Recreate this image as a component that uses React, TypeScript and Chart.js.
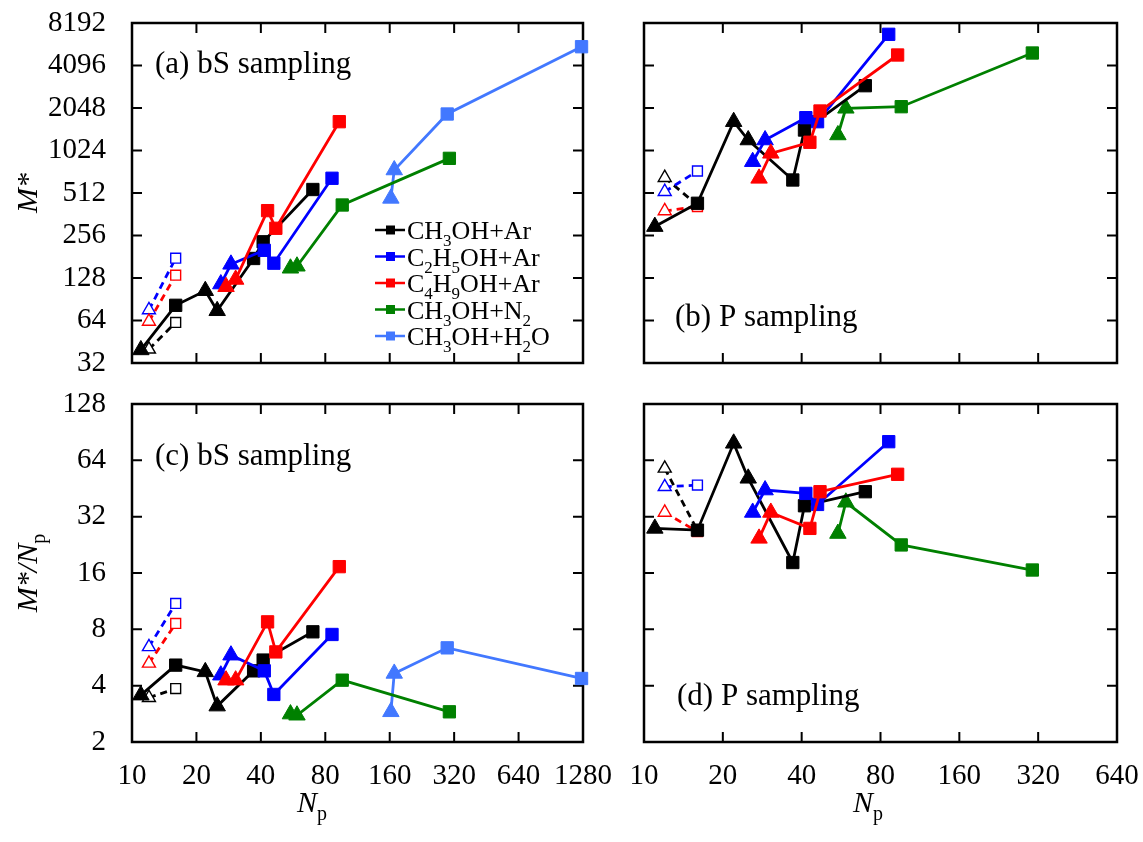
import React, { useEffect, useRef } from 'react';
import { Chart, registerables } from 'chart.js';

Chart.register(...registerables);

const PAGE_W = 1143;
const PAGE_H = 842;
const SERIF = '"Liberation Serif", "Times New Roman", Times, serif';

// ---------- tick values ----------
const xTicksBS = [10, 20, 40, 80, 160, 320, 640, 1280];
const xTicksP = [10, 20, 40, 80, 160, 320, 640];
const yTicksM = [32, 64, 128, 256, 512, 1024, 2048, 4096, 8192];
const yTicksRatio = [2, 4, 8, 16, 32, 64, 128];

// ---------- series names ----------
const seriesNames = ['CH3OH+Ar', 'C2H5OH+Ar', 'C4H9OH+Ar', 'CH3OH+N2', 'CH3OH+H2O'];

// marker kind per point (T = triangle, S = square)
const kindMeOHAr = ['T', 'S', 'T', 'T', 'S', 'S', 'S'];
const kindEtOHAr = ['T', 'T', 'S', 'S', 'S'];
const kindBuOHAr = ['T', 'T', 'S', 'S', 'S'];
const kindMeOHN2 = ['T', 'T', 'S', 'S'];
const kindMeOHH2O = ['T', 'T', 'S', 'S'];
const kindOpen = ['T', 'S'];

// ---------- N_p values ----------
const npMeOHAr = [11, 16, 22, 25, 37, 41, 70];
const npEtOHAr = [26, 29, 41.5, 46, 86];
const npBuOHAr = [27.5, 30.5, 43, 47, 93];
const npMeOHN2 = [55, 59, 96, 304];
const npMeOHH2O = [162, 168, 297, 1260];
const npOpen = [12, 16];

// ---------- (a) bS sampling : M* ----------
const aMeOHAr = [39.6, 82, 104, 75, 176, 231, 542];
const aEtOHAr = [116, 160, 201, 163, 651];
const aBuOHAr = [111, 125, 384, 288, 1638];
const aMeOHN2 = [150, 155, 421, 901];
const aMeOHH2O = [469, 745, 1857, 5565];
const aOpenMeOHAr = [40, 62];
const aOpenEtOHAr = [76, 177];
const aOpenBuOHAr = [63, 134];

// ---------- (b) P sampling : M* ----------
const bMeOHAr = [296, 433, 1638, 1215, 633, 1430, 2946];
const bEtOHAr = [853, 1215, 1749, 1638, 6813];
const bBuOHAr = [650, 978, 1171, 1950, 4861];
const bMeOHN2 = [1319, 2038, 2092, 5022];
const bOpenMeOHAr = [657, 420];
const bOpenEtOHAr = [523, 733];
const bOpenBuOHAr = [382, 410];

// ---------- (c) bS sampling : M*/Np ----------
const cMeOHAr = [3.56, 5.15, 4.74, 3.11, 4.8, 5.48, 7.76];
const cEtOHAr = [4.55, 5.82, 4.8, 3.59, 7.51];
const cBuOHAr = [4.28, 4.28, 8.77, 6.06, 17.3];
const cMeOHN2 = [2.82, 2.78, 4.28, 2.9];
const cMeOHH2O = [2.9, 4.65, 6.37, 4.37];
const cOpenMeOHAr = [3.45, 3.86];
const cOpenEtOHAr = [6.45, 11.0];
const cOpenBuOHAr = [5.26, 8.6];

// ---------- (d) P sampling : M*/Np ----------
const dMeOHAr = [27.7, 27.1, 78.9, 51.3, 18.2, 36.6, 43.5];
const dEtOHAr = [33.7, 44.4, 42.6, 37.2, 80.5];
const dBuOHAr = [24.5, 33.7, 27.7, 43.5, 53.9];
const dMeOHN2 = [26, 38.2, 22.6, 16.6];
const dOpenMeOHAr = [58, 27];
const dOpenEtOHAr = [46.2, 47.2];
const dOpenBuOHAr = [33.7, 26.6];

// ---------- styling ----------
const C_BLACK = '#000000';
const C_BLUE = '#0000ff';
const C_RED = '#ff0000';
const C_GREEN = '#008000';
const C_SKY = '#4278ff';
const legendColors = [C_BLACK, C_BLUE, C_RED, C_GREEN, C_SKY];

type Seg = { t: string; sub?: boolean; it?: boolean };

const legendText: Seg[][] = [
  [{ t: 'CH' }, { t: '3', sub: true }, { t: 'OH+Ar' }],
  [{ t: 'C' }, { t: '2', sub: true }, { t: 'H' }, { t: '5', sub: true }, { t: 'OH+Ar' }],
  [{ t: 'C' }, { t: '4', sub: true }, { t: 'H' }, { t: '9', sub: true }, { t: 'OH+Ar' }],
  [{ t: 'CH' }, { t: '3', sub: true }, { t: 'OH+N' }, { t: '2', sub: true }],
  [{ t: 'CH' }, { t: '3', sub: true }, { t: 'OH+H' }, { t: '2', sub: true }, { t: 'O' }],
];

function segFont(s: Seg, size: number) {
  const sz = s.sub ? Math.round(size * 0.66) : size;
  return `${s.it ? 'italic ' : ''}${sz}px ${SERIF}`;
}

function drawRich(ctx: CanvasRenderingContext2D, segs: Seg[], x: number, y: number, size: number, align: 'left' | 'center') {
  let w = 0;
  for (const s of segs) {
    ctx.font = segFont(s, size);
    w += ctx.measureText(s.t).width;
  }
  let cx = align === 'center' ? x - w / 2 : x;
  ctx.textAlign = 'left';
  ctx.textBaseline = 'alphabetic';
  ctx.fillStyle = '#000';
  for (const s of segs) {
    ctx.font = segFont(s, size);
    ctx.fillText(s.t, cx, y + (s.sub ? size * 0.28 : 0));
    cx += ctx.measureText(s.t).width;
  }
}

function series(label: string, color: string, xs: number[], ys: number[], kinds: string[], open = false) {
  return {
    label,
    data: xs.map((x, i) => ({ x, y: ys[i] })),
    showLine: true,
    borderColor: color,
    backgroundColor: color,
    borderWidth: 2.8,
    borderDash: open ? [7, 5] : [],
    pointStyle: kinds.map((k) => (k === 'T' ? 'triangle' : 'rect')),
    pointRadius: kinds.map((k) => (open ? (k === 'T' ? 7.5 : 7) : k === 'T' ? 9.5 : 8.7)),
    pointBackgroundColor: open ? '#ffffff' : color,
    pointBorderColor: color,
    pointBorderWidth: open ? 1.4 : 1,
    clip: false,
    tension: 0,
  };
}

type Rect = { l: number; t: number; r: number; b: number };
type PanelSpec = {
  id: string;
  rect: Rect;
  xMax: number;
  yMin: number;
  yMax: number;
  xTicks: number[];
  yTicks: number[];
  showXLabels: boolean;
  showYLabels: boolean;
  datasets: any[];
  decorate: (ctx: CanvasRenderingContext2D) => void;
};

const TICK_FONT = 29;
const LABEL_FONT = 31;
const X_BOX_H = 80;

function buildChart(canvas: HTMLCanvasElement, spec: PanelSpec) {
  const { rect } = spec;
  const padding = {
    left: spec.showYLabels ? 0 : rect.l,
    top: rect.t,
    right: PAGE_W - rect.r,
    bottom: spec.showXLabels ? PAGE_H - rect.b - X_BOX_H : PAGE_H - rect.b,
  };
  const tickFont = { family: SERIF, size: TICK_FONT };
  const plugin = {
    id: 'frame_' + spec.id,
    beforeDatasetsDraw(chart: any) {
      const { ctx, chartArea: a } = chart;
      const xs = chart.scales.x;
      const ys = chart.scales.y;
      const TL = 10;
      ctx.save();
      ctx.strokeStyle = '#000';
      ctx.lineWidth = 2;
      ctx.beginPath();
      spec.xTicks.forEach((v) => {
        const px = xs.getPixelForValue(v);
        if (px <= a.left + 2 || px >= a.right - 2) return;
        ctx.moveTo(px, a.bottom);
        ctx.lineTo(px, a.bottom - TL);
        ctx.moveTo(px, a.top);
        ctx.lineTo(px, a.top + TL);
      });
      spec.yTicks.forEach((v) => {
        const py = ys.getPixelForValue(v);
        if (py <= a.top + 2 || py >= a.bottom - 2) return;
        ctx.moveTo(a.left, py);
        ctx.lineTo(a.left + TL, py);
        ctx.moveTo(a.right, py);
        ctx.lineTo(a.right - TL, py);
      });
      ctx.stroke();
      ctx.lineWidth = 2.5;
      ctx.strokeRect(a.left, a.top, a.right - a.left, a.bottom - a.top);
      ctx.restore();
    },
    afterDraw(chart: any) {
      const ctx = chart.ctx as CanvasRenderingContext2D;
      ctx.save();
      spec.decorate(ctx);
      ctx.restore();
    },
  };

  return new Chart(canvas, {
    type: 'scatter',
    data: { datasets: spec.datasets },
    options: {
      animation: false,
      responsive: false,
      events: [],
      layout: { padding },
      plugins: { legend: { display: false }, tooltip: { enabled: false } },
      scales: {
        x: {
          type: 'logarithmic',
          min: 10,
          max: spec.xMax,
          display: spec.showXLabels,
          grid: { display: false, drawTicks: false },
          border: { display: false },
          ticks: {
            font: tickFont,
            color: '#000',
            padding: 17,
            autoSkip: false,
            maxRotation: 0,
            minRotation: 0,
            callback: (v: any) => String(v),
          },
          afterBuildTicks: (s: any) => {
            s.ticks = spec.xTicks.map((v) => ({ value: v }));
          },
          afterFit: (s: any) => {
            if (!spec.showXLabels) return;
            s.height = X_BOX_H;
            s.paddingLeft = 0;
            s.paddingRight = 0;
          },
        },
        y: {
          type: 'logarithmic',
          min: spec.yMin,
          max: spec.yMax,
          display: spec.showYLabels,
          grid: { display: false, drawTicks: false },
          border: { display: false },
          ticks: {
            font: tickFont,
            color: '#000',
            padding: 26,
            autoSkip: false,
            callback: (v: any) => String(v),
          },
          afterBuildTicks: (s: any) => {
            s.ticks = spec.yTicks.map((v) => ({ value: v }));
          },
          afterFit: (s: any) => {
            if (!spec.showYLabels) return;
            s.width = rect.l;
            s.paddingTop = 0;
            s.paddingBottom = 0;
          },
        },
      },
    } as any,
    plugins: [plugin as any],
  });
}

function drawYTitle(ctx: CanvasRenderingContext2D, segs: Seg[], cx: number, cy: number, size: number) {
  ctx.save();
  ctx.translate(cx, cy);
  ctx.rotate(-Math.PI / 2);
  drawRich(ctx, segs, 0, size * 0.33, size, 'center');
  ctx.restore();
}

function drawLegend(ctx: CanvasRenderingContext2D) {
  const rows = [230, 256.5, 283, 309.5, 336];
  seriesNames.forEach((_, i) => {
    const y = rows[i];
    const col = legendColors[i];
    ctx.strokeStyle = col;
    ctx.lineWidth = 2.5;
    ctx.beginPath();
    ctx.moveTo(375, y);
    ctx.lineTo(405, y);
    ctx.stroke();
    ctx.fillStyle = col;
    ctx.fillRect(386, y - 4.5, 9, 9);
    drawRich(ctx, legendText[i], 407, y + 9, 26, 'left');
  });
}

const RECT_A: Rect = { l: 132, t: 23, r: 583, b: 363 };
const RECT_B: Rect = { l: 644, t: 23, r: 1117, b: 363 };
const RECT_C: Rect = { l: 132, t: 404, r: 583, b: 742 };
const RECT_D: Rect = { l: 644, t: 404, r: 1117, b: 742 };

const panels: PanelSpec[] = [
  {
    id: 'a',
    rect: RECT_A,
    xMax: 1280,
    yMin: 32,
    yMax: 8192,
    xTicks: xTicksBS,
    yTicks: yTicksM,
    showXLabels: false,
    showYLabels: true,
    datasets: [
      series(seriesNames[2], C_RED, npBuOHAr, aBuOHAr, kindBuOHAr),
      series(seriesNames[1], C_BLUE, npEtOHAr, aEtOHAr, kindEtOHAr),
      series(seriesNames[0], C_BLACK, npMeOHAr, aMeOHAr, kindMeOHAr),
      series(seriesNames[3], C_GREEN, npMeOHN2, aMeOHN2, kindMeOHN2),
      series(seriesNames[4], C_SKY, npMeOHH2O, aMeOHH2O, kindMeOHH2O),
      series(seriesNames[2] + ' (open)', C_RED, npOpen, aOpenBuOHAr, kindOpen, true),
      series(seriesNames[1] + ' (open)', C_BLUE, npOpen, aOpenEtOHAr, kindOpen, true),
      series(seriesNames[0] + ' (open)', C_BLACK, npOpen, aOpenMeOHAr, kindOpen, true),
    ],
    decorate: (ctx) => {
      drawRich(ctx, [{ t: '(a) bS sampling' }], 155, 73, LABEL_FONT, 'left');
      drawYTitle(ctx, [{ t: 'M*', it: true }], 27, 193, 30);
      drawLegend(ctx);
    },
  },
  {
    id: 'b',
    rect: RECT_B,
    xMax: 640,
    yMin: 32,
    yMax: 8192,
    xTicks: xTicksP,
    yTicks: yTicksM,
    showXLabels: false,
    showYLabels: false,
    datasets: [
      series(seriesNames[2], C_RED, npBuOHAr, bBuOHAr, kindBuOHAr),
      series(seriesNames[1], C_BLUE, npEtOHAr, bEtOHAr, kindEtOHAr),
      series(seriesNames[0], C_BLACK, npMeOHAr, bMeOHAr, kindMeOHAr),
      series(seriesNames[3], C_GREEN, npMeOHN2, bMeOHN2, kindMeOHN2),
      series(seriesNames[2] + ' (open)', C_RED, npOpen, bOpenBuOHAr, kindOpen, true),
      series(seriesNames[1] + ' (open)', C_BLUE, npOpen, bOpenEtOHAr, kindOpen, true),
      series(seriesNames[0] + ' (open)', C_BLACK, npOpen, bOpenMeOHAr, kindOpen, true),
    ],
    decorate: (ctx) => {
      drawRich(ctx, [{ t: '(b) P sampling' }], 675, 326, LABEL_FONT, 'left');
    },
  },
  {
    id: 'c',
    rect: RECT_C,
    xMax: 1280,
    yMin: 2,
    yMax: 128,
    xTicks: xTicksBS,
    yTicks: yTicksRatio,
    showXLabels: true,
    showYLabels: true,
    datasets: [
      series(seriesNames[2], C_RED, npBuOHAr, cBuOHAr, kindBuOHAr),
      series(seriesNames[1], C_BLUE, npEtOHAr, cEtOHAr, kindEtOHAr),
      series(seriesNames[0], C_BLACK, npMeOHAr, cMeOHAr, kindMeOHAr),
      series(seriesNames[3], C_GREEN, npMeOHN2, cMeOHN2, kindMeOHN2),
      series(seriesNames[4], C_SKY, npMeOHH2O, cMeOHH2O, kindMeOHH2O),
      series(seriesNames[2] + ' (open)', C_RED, npOpen, cOpenBuOHAr, kindOpen, true),
      series(seriesNames[1] + ' (open)', C_BLUE, npOpen, cOpenEtOHAr, kindOpen, true),
      series(seriesNames[0] + ' (open)', C_BLACK, npOpen, cOpenMeOHAr, kindOpen, true),
    ],
    decorate: (ctx) => {
      drawRich(ctx, [{ t: '(c) bS sampling' }], 155, 465, LABEL_FONT, 'left');
      drawYTitle(ctx, [{ t: 'M*/N', it: true }, { t: 'p', sub: true }], 27, 573, 30);
      drawRich(ctx, [{ t: 'N', it: true }, { t: 'p', sub: true }], 312, 812, 30, 'center');
    },
  },
  {
    id: 'd',
    rect: RECT_D,
    xMax: 640,
    yMin: 2,
    yMax: 128,
    xTicks: xTicksP,
    yTicks: yTicksRatio,
    showXLabels: true,
    showYLabels: false,
    datasets: [
      series(seriesNames[2], C_RED, npBuOHAr, dBuOHAr, kindBuOHAr),
      series(seriesNames[1], C_BLUE, npEtOHAr, dEtOHAr, kindEtOHAr),
      series(seriesNames[0], C_BLACK, npMeOHAr, dMeOHAr, kindMeOHAr),
      series(seriesNames[3], C_GREEN, npMeOHN2, dMeOHN2, kindMeOHN2),
      series(seriesNames[2] + ' (open)', C_RED, npOpen, dOpenBuOHAr, kindOpen, true),
      series(seriesNames[1] + ' (open)', C_BLUE, npOpen, dOpenEtOHAr, kindOpen, true),
      series(seriesNames[0] + ' (open)', C_BLACK, npOpen, dOpenMeOHAr, kindOpen, true),
    ],
    decorate: (ctx) => {
      drawRich(ctx, [{ t: '(d) P sampling' }], 677, 705, LABEL_FONT, 'left');
      drawRich(ctx, [{ t: 'N', it: true }, { t: 'p', sub: true }], 868, 812, 30, 'center');
    },
  },
];

function Panel({ spec }: { spec: PanelSpec }) {
  const ref = useRef<HTMLCanvasElement>(null);
  useEffect(() => {
    if (!ref.current) return;
    const chart = buildChart(ref.current, spec);
    return () => chart.destroy();
  }, [spec]);
  return (
    <canvas
      ref={ref}
      width={PAGE_W}
      height={PAGE_H}
      style={{ position: 'absolute', left: 0, top: 0, width: PAGE_W, height: PAGE_H }}
    />
  );
}

export default function App() {
  return (
    <div
      style={{
        position: 'absolute',
        left: 0,
        top: 0,
        width: PAGE_W,
        height: PAGE_H,
        background: '#ffffff',
        overflow: 'hidden',
      }}
    >
      {panels.map((p) => (
        <Panel key={p.id} spec={p} />
      ))}
    </div>
  );
}
